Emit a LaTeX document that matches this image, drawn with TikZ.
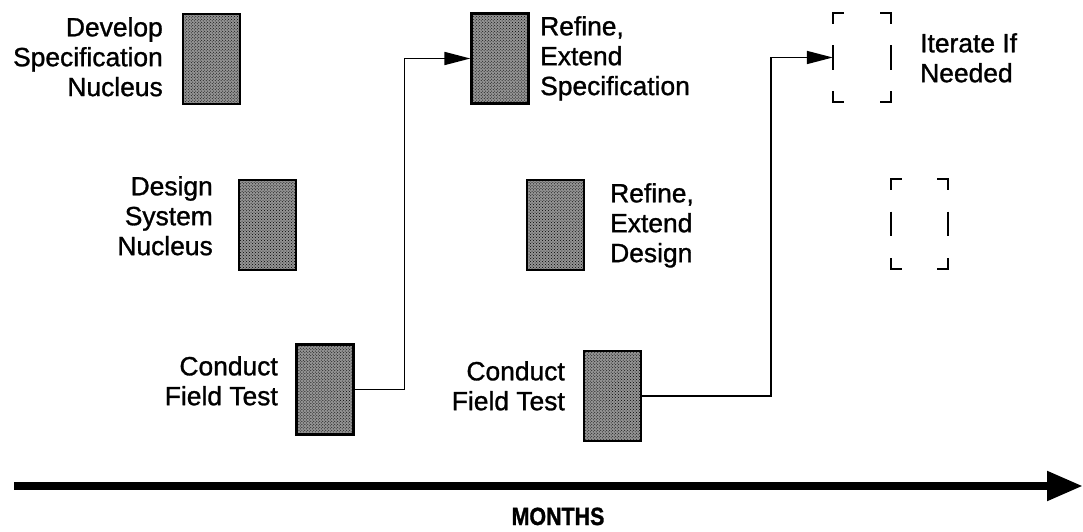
\documentclass[tikz,border=0pt]{standalone}
\usepackage{fontspec}
\setmainfont{Liberation Sans}
\newfontfamily\lblfont[FakeBold=1.1]{Liberation Sans}
\newfontfamily\axisfont[FakeStretch=0.86,FakeBold=1.2]{Liberation Sans}
\usetikzlibrary{arrows.meta,patterns}

\tikzset{
  task/.style={draw=black, line width=2.2bp, fill=black!42,
    postaction={pattern=crosshatch dots, pattern color=black},
    minimum width=57bp, minimum height=90bp, inner sep=0pt},
  ghost/.style={minimum width=58bp, minimum height=89bp, inner sep=0pt},
  bracket/.style={line width=1.8bp, black},
  lbl/.style={inner sep=0pt, font=\lblfont\fontsize{26.5}{30}\selectfont},
  conn/.style={line width=1.7bp, -{Triangle[length=26bp,width=13bp]}},
  timeline/.style={line width=8bp, -{Triangle[length=36bp,width=28bp]}},
}

\begin{document}
\begin{tikzpicture}[x=1bp, y=-1bp]
  \useasboundingbox (0,0) rectangle (1083,532);

  % activity boxes
  \node[task] (sn)   at (211.5,59)   {};
  \node[task] (res)  at (500,58.5)   {};
  \node[task] (dsn)  at (267.5,225)  {};
  \node[task] (red)  at (555.5,225)  {};
  \node[task] (cft1) at (325,389.5)  {};
  \node[task] (cft2) at (612.5,396)  {};

  % optional iterations (bracketed outlines)
  \node[ghost] (it1) at (862,57.5) {};
  \node[ghost, minimum width=57bp, minimum height=90bp] (it2) at (919.5,224) {};
  \foreach \n in {it1,it2} {
    \draw[bracket] ([yshift=-11pt]\n.north west) -- (\n.north west) -- ([xshift=11pt]\n.north west);
    \draw[bracket] ([yshift=-11pt]\n.north east) -- (\n.north east) -- ([xshift=-11pt]\n.north east);
    \draw[bracket] ([yshift=11pt]\n.south west) -- (\n.south west) -- ([xshift=11pt]\n.south west);
    \draw[bracket] ([yshift=11pt]\n.south east) -- (\n.south east) -- ([xshift=-11pt]\n.south east);
    \draw[bracket] ([yshift=12.5pt]\n.west) -- ([yshift=-12.5pt]\n.west);
    \draw[bracket] ([yshift=12.5pt]\n.east) -- ([yshift=-12.5pt]\n.east);
  }

  % labels
  \node[lbl, anchor=north east, align=right] (l1) at (163,17) {Develop\\Specification\\Nucleus};
  \node[lbl, anchor=north east, align=right] (l2) at (213,176) {Design\\System\\Nucleus};
  \node[lbl, anchor=north east, align=right] (l3) at (278,356) {Conduct\\Field Test};
  \node[lbl, anchor=north east, align=right] (l4) at (565,361) {Conduct\\Field Test};
  \node[lbl, anchor=north west, align=left]  (l5) at (540,16)  {Refine,\\Extend\\Specification};
  \node[lbl, anchor=north west, align=left]  (l6) at (610,183) {Refine,\\Extend\\Design};
  \node[lbl, anchor=north west, align=left]  (l7) at (920,33)  {Iterate If\\Needed};

  % feedback from field tests
  \draw[conn] (cft1.east) -- ++(50,0) |- (res.west);
  \draw[conn] (cft2.east) -- ++(129,0) |- (it1.west);

  % time axis
  \coordinate (t0) at (14,486);
  \coordinate (t1) at (1083,486);
  \draw[timeline] (t0) -- (t1);
  \node[inner sep=0pt, anchor=base, font=\axisfont\bfseries\fontsize{25}{28}\selectfont] (months) at (558,525) {MONTHS};
\end{tikzpicture}
\end{document}
